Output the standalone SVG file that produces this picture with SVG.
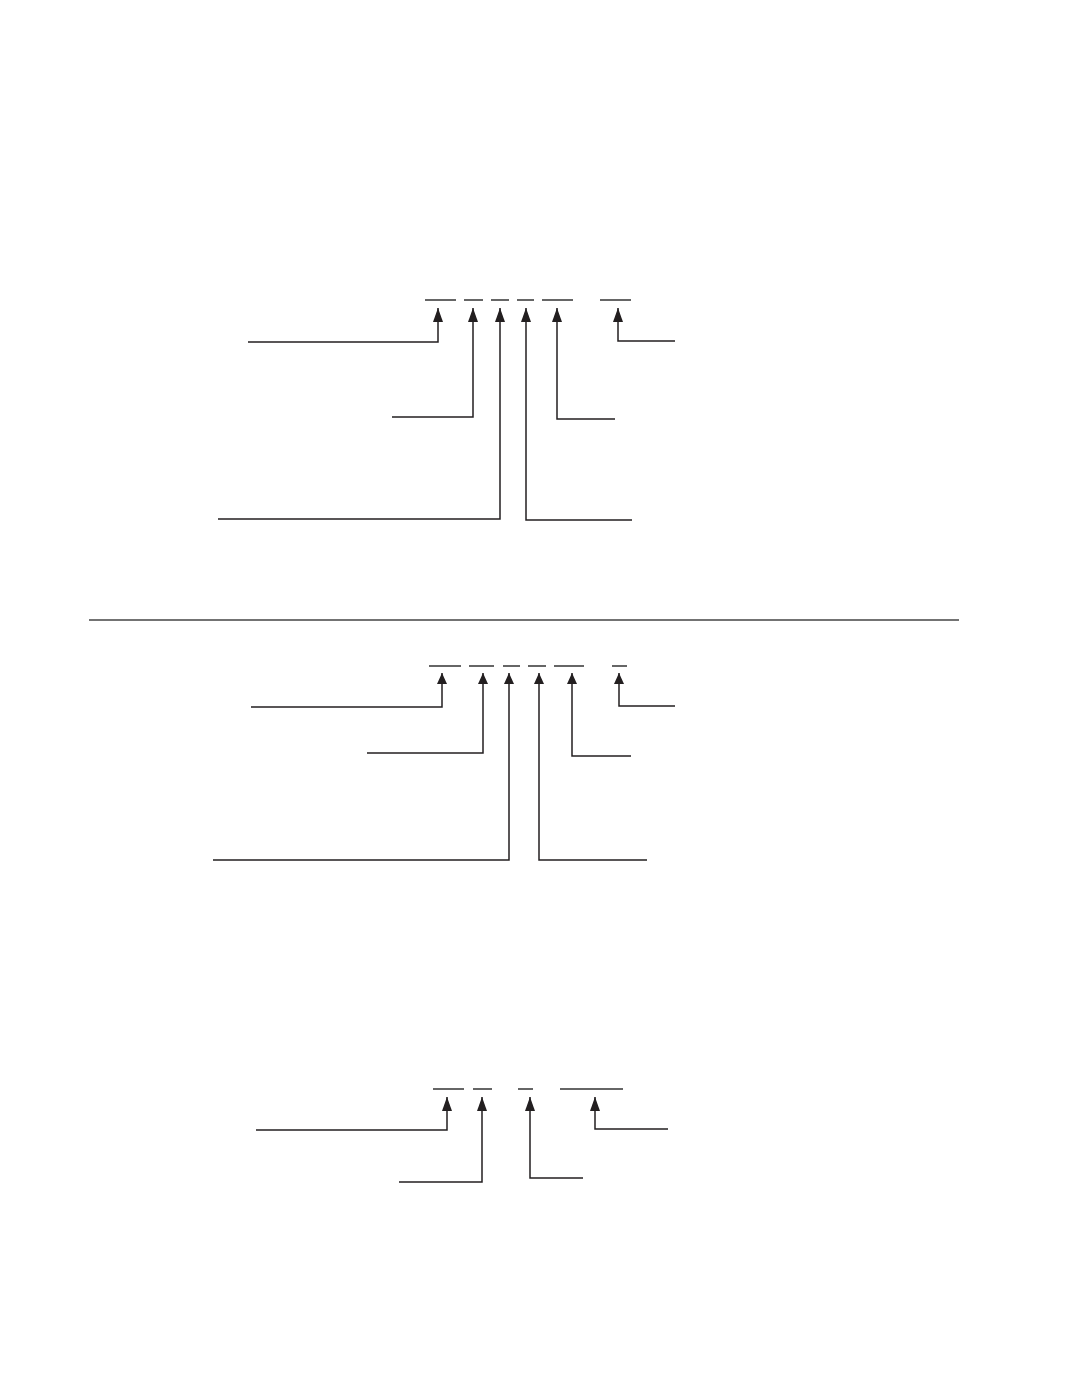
<svg xmlns="http://www.w3.org/2000/svg" width="1071" height="1386" viewBox="0 0 1071 1386">
<style>
.blank{stroke:#333;stroke-width:1.5;fill:none}
.conn{stroke:#231f20;stroke-width:1.5;fill:none}
.a1{marker-start:url(#arrowL)}
.a2{marker-start:url(#arrowS)}
.rule{stroke:#444;stroke-width:1.3}
</style>
<defs>
<marker id="arrowL" viewBox="0 0 14 10" refX="14" refY="5" markerWidth="14" markerHeight="10" markerUnits="userSpaceOnUse" orient="auto-start-reverse"><path d="M0,0 L14,5 L0,10 z" fill="#231f20"/></marker>
<marker id="arrowS" viewBox="0 0 11 10" refX="11" refY="5" markerWidth="11" markerHeight="10" markerUnits="userSpaceOnUse" orient="auto-start-reverse"><path d="M0,0 L11,5 L0,10 z" fill="#231f20"/></marker>
</defs>
<rect width="1071" height="1386" fill="#fff"/>
<g id="blanks1">
<line id="b1a" class="blank" x1="425" y1="300" x2="456" y2="300"/>
<line id="b1b" class="blank" x1="464" y1="300" x2="483" y2="300"/>
<line id="b1c" class="blank" x1="491" y1="300" x2="509" y2="300"/>
<line id="b1d" class="blank" x1="517" y1="300" x2="534" y2="300"/>
<line id="b1e" class="blank" x1="542" y1="300" x2="573" y2="300"/>
<line id="b1f" class="blank" x1="600" y1="300" x2="631" y2="300"/>
</g>
<g id="connectors1">
<path class="conn a1" d="M438,308 V342 H248"/>
<path class="conn a1" d="M473,308 V417 H392"/>
<path class="conn a1" d="M500,308 V519 H218"/>
<path class="conn a1" d="M526,308 V520 H632"/>
<path class="conn a1" d="M557,308 V419 H615"/>
<path class="conn a1" d="M618,308 V341 H675"/>
</g>
<line id="divider" class="rule" x1="89" y1="620" x2="959" y2="620"/>
<g id="blanks2">
<line id="b2a" class="blank" x1="429" y1="666" x2="461" y2="666"/>
<line id="b2b" class="blank" x1="469" y1="666" x2="494" y2="666"/>
<line id="b2c" class="blank" x1="503" y1="666" x2="520" y2="666"/>
<line id="b2d" class="blank" x1="528" y1="666" x2="546" y2="666"/>
<line id="b2e" class="blank" x1="554" y1="666" x2="584" y2="666"/>
<line id="b2f" class="blank" x1="612" y1="666" x2="627" y2="666"/>
</g>
<g id="connectors2">
<path class="conn a2" d="M442,673 V707 H251"/>
<path class="conn a2" d="M483,673 V753 H367"/>
<path class="conn a2" d="M509,673 V860 H213"/>
<path class="conn a2" d="M539,673 V860 H647"/>
<path class="conn a2" d="M572,673 V756 H631"/>
<path class="conn a2" d="M619,673 V706 H675"/>
</g>
<g id="blanks3">
<line id="b3a" class="blank" x1="433" y1="1089" x2="464" y2="1089"/>
<line id="b3b" class="blank" x1="473" y1="1089" x2="492" y2="1089"/>
<line id="b3c" class="blank" x1="518" y1="1089" x2="533" y2="1089"/>
<line id="b3d" class="blank" x1="560" y1="1089" x2="623" y2="1089"/>
</g>
<g id="connectors3">
<path class="conn a1" d="M447,1097 V1130 H256"/>
<path class="conn a1" d="M482,1097 V1182 H399"/>
<path class="conn a1" d="M530,1097 V1178 H583"/>
<path class="conn a1" d="M595,1097 V1129 H668"/>
</g>
</svg>
